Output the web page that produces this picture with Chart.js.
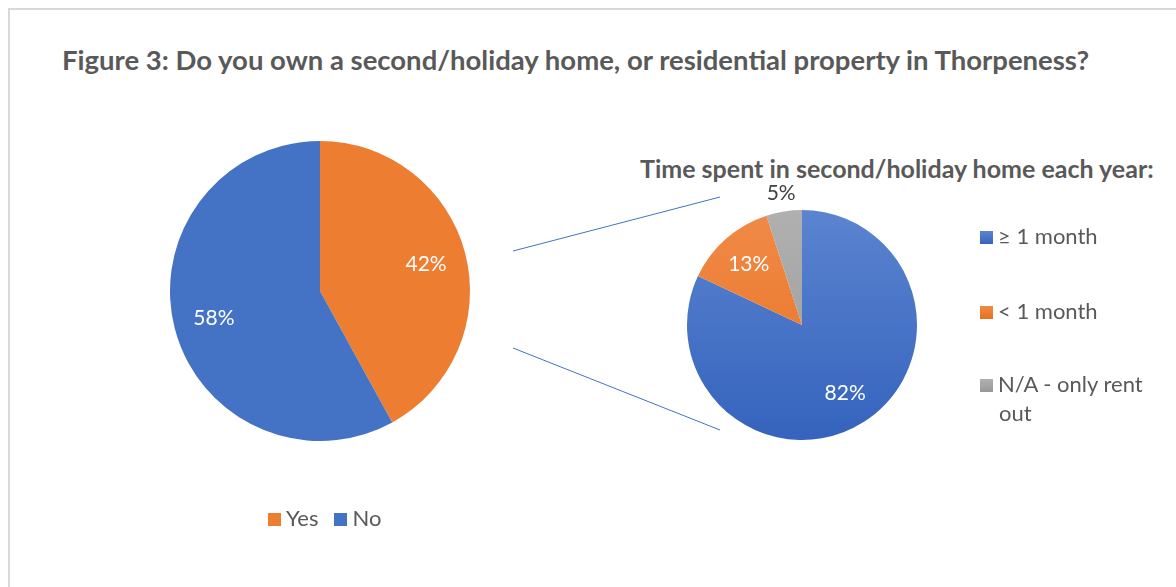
<!DOCTYPE html>
<html>
<head>
<meta charset="utf-8">
<script src="https://cdn.jsdelivr.net/npm/chart.js@4"></script>
<style>
  body { margin: 0; background: #fff; width: 1176px; height: 587px; overflow: hidden; position: relative; font-family: Lato, "Open Sans", sans-serif; color: #595959; }
  #frame { position: absolute; left: 8px; top: 8px; width: 1300px; height: 700px; border: 2px solid #d9d9d9; }
  #title { position: absolute; left: 62px; top: 43px; font-size: 27.5px; line-height: 34px; font-weight: bold; white-space: nowrap; }
  #subtitle { position: absolute; left: 640px; top: 153px; font-size: 25px; line-height: 30px; font-weight: bold; white-space: nowrap; }
  .box { position: absolute; }
  #lines { position: absolute; left: 0; top: 0; }
  .lg { position: absolute; font-size: 22px; line-height: 29px; }
  .sw { display: inline-block; width: 13px; height: 13px; margin-right: 5px; vertical-align: 0px; }
</style>
</head>
<body>
<div id="frame"></div>
<div id="title">Figure 3: Do you own a second/holiday home, or residential property in Thorpeness?</div>
<div id="subtitle">Time spent in second/holiday home each year:</div>
<canvas id="lines" width="1176" height="587"></canvas>
<div class="box" style="left:120px; top:91px; width:400px; height:400px;"><canvas id="mainPie"></canvas></div>
<div class="box" style="left:652px; top:175px; width:300px; height:300px;"><canvas id="subPie"></canvas></div>
<div id="mainLegend" class="lg" style="left:268px; top:503px;"></div>
<div id="subLegend"></div>
<script>
// 데이터
const mainLabels = ['Yes', 'No'];
const mainValues = [42, 58];
const mainColors = ['#ED7D31', '#4472C4'];

const subLabels = ['\u2265 1 month', '< 1 month', 'N/A - only rent out'];
const subValues = [82, 13, 5];
const subTop = ['#5b84d0', '#f08a48', '#b0b0b0'];
const subBottom = ['#3563bd', '#e8711f', '#989898'];

// 조각 라벨 플러그인
const sliceLabels = {
	id: 'sliceLabels',
	afterDatasetsDraw(chart, args, opts) {
		const ctx = chart.ctx;
		const meta = chart.getDatasetMeta(0);
		const data = chart.data.datasets[0].data;
		ctx.save();
		ctx.font = '21px Lato, "Open Sans", sans-serif';
		ctx.textAlign = 'center';
		ctx.textBaseline = 'middle';
		meta.data.forEach(function (arc, i) {
			const mid = (arc.startAngle + arc.endAngle) / 2;
			const outside = opts.outside && opts.outside.indexOf(i) >= 0;
			const r = arc.outerRadius * (outside ? 1.16 : opts.ratio);
			ctx.fillStyle = outside ? '#404040' : '#ffffff';
			ctx.fillText(data[i] + '%', arc.x + Math.cos(mid) * r, arc.y + Math.sin(mid) * r);
		});
		ctx.restore();
	}
};

new Chart(document.getElementById('mainPie'), {
	type: 'pie',
	data: {
		labels: mainLabels,
		datasets: [{ data: mainValues, backgroundColor: mainColors, borderWidth: 0, hoverOffset: 0 }]
	},
	options: {
		responsive: true,
		maintainAspectRatio: false,
		animation: false,
		layout: { padding: 50 },
		plugins: { legend: { display: false }, tooltip: { enabled: false }, sliceLabels: { ratio: 0.73 } }
	},
	plugins: [sliceLabels]
});

new Chart(document.getElementById('subPie'), {
	type: 'pie',
	data: {
		labels: subLabels,
		datasets: [{
			data: subValues,
			backgroundColor: function (c) {
				const area = c.chart.chartArea;
				if (!area) return subTop[c.dataIndex];
				const g = c.chart.ctx.createLinearGradient(0, area.top, 0, area.bottom);
				g.addColorStop(0, subTop[c.dataIndex]);
				g.addColorStop(1, subBottom[c.dataIndex]);
				return g;
			},
			borderWidth: 0,
			hoverOffset: 0
		}]
	},
	options: {
		responsive: true,
		maintainAspectRatio: false,
		animation: false,
		layout: { padding: 35 },
		plugins: { legend: { display: false }, tooltip: { enabled: false }, sliceLabels: { ratio: 0.7, outside: [2] } }
	},
	plugins: [sliceLabels]
});

// 연결선
const lc = document.getElementById('lines').getContext('2d');
lc.strokeStyle = '#4472C4';
lc.lineWidth = 1;
lc.beginPath();
lc.moveTo(513, 251); lc.lineTo(720, 197);
lc.moveTo(513, 348); lc.lineTo(720, 430);
lc.stroke();

// 범례
const mainLegend = document.getElementById('mainLegend');
mainLabels.forEach(function (l, i) {
	const s = document.createElement('span');
	s.style.marginRight = '16px';
	s.innerHTML = '<span class="sw" style="background:' + mainColors[i] + '"></span>' + l;
	mainLegend.appendChild(s);
});
const subLegend = document.getElementById('subLegend');
const subTops = [221, 296, 369];
subLabels.forEach(function (l, i) {
	const d = document.createElement('div');
	d.className = 'lg';
	d.style.left = '980px';
	d.style.top = subTops[i] + 'px';
	d.style.width = '160px';
	d.style.paddingLeft = '19px';
	d.style.textIndent = '-19px';
	d.innerHTML = '<span class="sw" style="background:linear-gradient(' + subTop[i] + ',' + subBottom[i] + ')"></span>' + l;
	subLegend.appendChild(d);
});
</script>
</body>
</html>
